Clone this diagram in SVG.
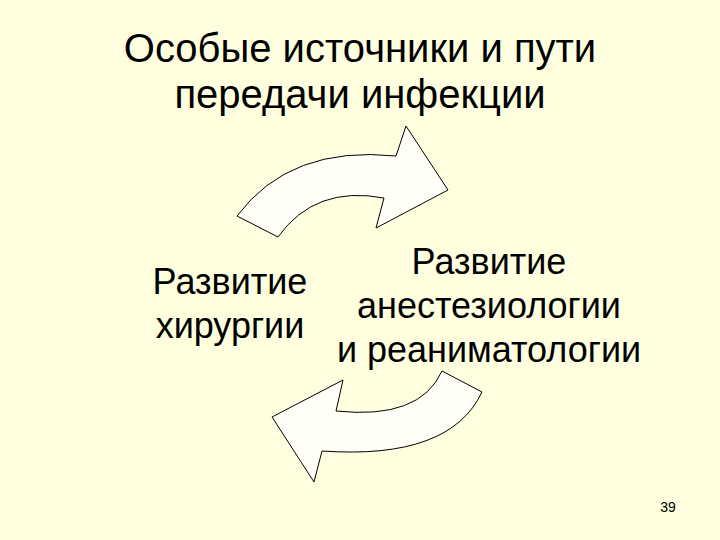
<svg xmlns="http://www.w3.org/2000/svg" width="720" height="540" viewBox="0 0 720 540">
<style>
.t{font-family:"Liberation Sans",Arial,sans-serif;fill:#000;text-anchor:middle}
.arr{fill:#FFFFF8;stroke:#000;stroke-width:1}
</style>
<rect width="720" height="540" fill="#FFFFDF"/>
<g id="title">
<text class="t" x="360" y="62" font-size="40">Особые источники и пути</text>
<text class="t" x="360" y="108" font-size="40">передачи инфекции</text>
</g>
<g id="node-left">
<text class="t" x="230" y="294" font-size="36">Развитие</text>
<text class="t" x="230" y="338" font-size="36">хирургии</text>
</g>
<g id="node-right">
<text class="t" x="489" y="274" font-size="36">Развитие</text>
<text class="t" x="489" y="318" font-size="36">анестезиологии</text>
<text class="t" x="489" y="362" font-size="36">и реаниматологии</text>
</g>
<g id="connectors">
<path id="arrow-top" class="arr" d="M237,216 Q290,145 396,156 L406,126 L448,190 L376,228 L384,198 Q315,185 278,237 Z"/>
<path id="arrow-bottom" class="arr" d="M482,392 Q450,460 322,451 L314,482 L272,417 L343,380 L336,411 Q420,420 442,371 Z"/>
</g>
<text class="t" x="668" y="512" font-size="14">39</text>
</svg>
